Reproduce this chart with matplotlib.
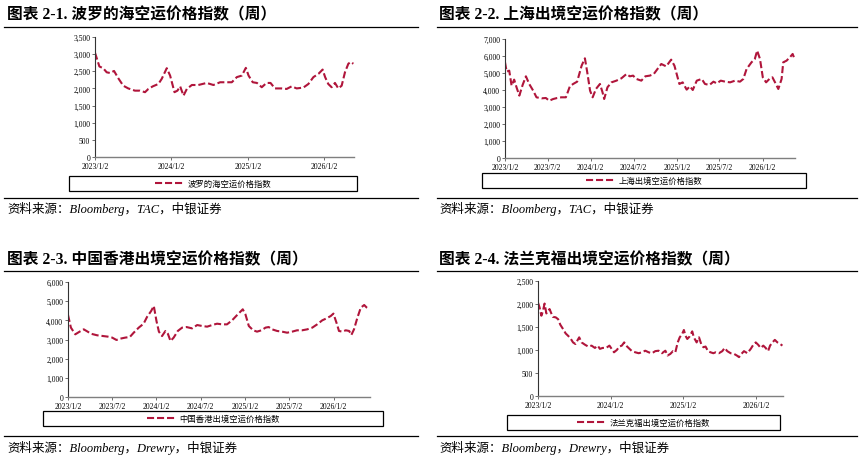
import matplotlib
matplotlib.use("Agg")
import matplotlib.pyplot as plt
import pandas as pd
from matplotlib.patches import Rectangle
from matplotlib.lines import Line2D
from matplotlib.ticker import FuncFormatter
from matplotlib.font_manager import FontProperties

# ---- data ----
dates1 = ["2023-01-02", "2023-01-23", "2023-02-10", "2023-02-27", "2023-03-15", "2023-04-03", "2023-04-23",
          "2023-05-17", "2023-06-10", "2023-07-12", "2023-08-05", "2023-08-29", "2023-09-14", "2023-10-05",
          "2023-11-01", "2023-11-17", "2023-12-11", "2023-12-27",
          "2024-01-17", "2024-01-31", "2024-02-13", "2024-02-29", "2024-03-16", "2024-04-09", "2024-05-10",
          "2024-06-19", "2024-07-21", "2024-08-22", "2024-09-23", "2024-10-17", "2024-11-10", "2024-12-04",
          "2024-12-23",
          "2025-01-05", "2025-01-25", "2025-02-14", "2025-03-09", "2025-04-01", "2025-04-20", "2025-05-11",
          "2025-06-12", "2025-07-06", "2025-07-30", "2025-08-23", "2025-09-24", "2025-10-18", "2025-11-11",
          "2025-12-05", "2025-12-25",
          "2026-01-06", "2026-01-21", "2026-02-06", "2026-02-22", "2026-03-10", "2026-03-26", "2026-04-11",
          "2026-04-27", "2026-05-08", "2026-05-21"]
values1 = [3040, 2640, 2590, 2470, 2450, 2510, 2300, 2080, 2000, 1935, 1935, 1890, 1985, 2060, 2130, 2280, 2590, 2375,
           1890, 1935, 2060, 1790, 1985, 2100, 2100, 2160, 2100, 2180, 2180, 2180, 2330, 2375, 2600,
           2375, 2180, 2160, 2035, 2160, 2160, 2000, 2000, 1985, 2060, 2000, 2025, 2130, 2330, 2425, 2550,
           2330, 2130, 2035, 2160, 2000, 2080, 2475, 2720, 2770, 2720]

dates2 = ["2023-01-02", "2023-01-09", "2023-01-20", "2023-01-30", "2023-02-10", "2023-02-20", "2023-03-04",
          "2023-03-18", "2023-04-01", "2023-04-15", "2023-05-02", "2023-05-16", "2023-06-07", "2023-06-25",
          "2023-07-09", "2023-07-26", "2023-08-12", "2023-08-30", "2023-09-18", "2023-10-05", "2023-10-19",
          "2023-11-05", "2023-11-24", "2023-12-08", "2023-12-18", "2023-12-30",
          "2024-01-10", "2024-01-24", "2024-02-10", "2024-02-21", "2024-02-28", "2024-03-13", "2024-03-30",
          "2024-04-20", "2024-05-11", "2024-06-02", "2024-06-16", "2024-06-30", "2024-07-14", "2024-08-04",
          "2024-08-21", "2024-09-09", "2024-09-26", "2024-10-14", "2024-10-28", "2024-11-18", "2024-12-09",
          "2024-12-23",
          "2025-01-13", "2025-01-27", "2025-02-13", "2025-02-27", "2025-03-11", "2025-03-28", "2025-04-18",
          "2025-05-02", "2025-05-21", "2025-06-07", "2025-06-21", "2025-07-08", "2025-07-27", "2025-08-17",
          "2025-09-07", "2025-09-28", "2025-10-12", "2025-10-26", "2025-11-16", "2025-11-30", "2025-12-10",
          "2025-12-22",
          "2026-01-03", "2026-01-17", "2026-01-31", "2026-02-13", "2026-02-24", "2026-03-10", "2026-03-24",
          "2026-03-31", "2026-04-14", "2026-04-28", "2026-05-10", "2026-05-17"]
values2 = [5630, 5080, 5140, 4255, 4610, 4160, 3670, 4295, 4805, 4355, 3960, 3570, 3510, 3530, 3370, 3470, 3530,
           3570, 3570, 4215, 4355, 4490, 5430, 5865, 5040, 3960,
           3570, 4060, 4355, 3865, 3470, 4160, 4450, 4550, 4685, 4940, 4805, 4845, 4650, 4550, 4805, 4845, 4940,
           5275, 5530, 5390, 5785, 5430,
           4355, 4450, 4020, 4215, 4000, 4550, 4650, 4355, 4295, 4490, 4390, 4550, 4490, 4450, 4550, 4490, 4650,
           5235, 5630, 5825, 6315, 5825,
           4745, 4450, 4650, 4745, 4450, 4060, 4650, 5630, 5725, 5920, 6120, 5865]

dates3 = ["2023-01-02", "2023-01-14", "2023-02-01", "2023-02-19", "2023-03-08", "2023-03-24", "2023-04-07",
          "2023-05-02", "2023-05-27", "2023-06-15", "2023-07-03", "2023-07-21", "2023-08-06", "2023-08-27",
          "2023-09-14", "2023-09-30", "2023-10-21", "2023-11-10", "2023-11-24", "2023-12-11", "2023-12-22",
          "2024-01-02", "2024-01-12", "2024-01-25", "2024-02-08", "2024-02-18", "2024-02-29", "2024-03-13",
          "2024-03-30", "2024-04-17", "2024-05-05", "2024-05-28", "2024-06-18", "2024-07-08", "2024-07-29",
          "2024-08-19", "2024-09-08", "2024-09-29", "2024-10-19", "2024-11-09", "2024-11-30", "2024-12-23",
          "2025-01-03", "2025-01-17", "2025-02-04", "2025-02-20", "2025-03-10", "2025-03-27", "2025-04-09",
          "2025-04-23", "2025-05-14", "2025-06-03", "2025-06-24", "2025-07-15", "2025-08-04", "2025-08-25",
          "2025-09-15", "2025-10-06", "2025-10-26", "2025-11-16", "2025-12-04", "2025-12-21",
          "2026-01-01", "2026-01-15", "2026-01-24", "2026-02-07", "2026-02-21", "2026-03-07", "2026-03-16",
          "2026-03-27", "2026-04-10", "2026-04-24", "2026-05-08", "2026-05-19", "2026-05-29"]
values3 = [4280, 3620, 3270, 3410, 3530, 3410, 3300, 3220, 3180, 3150, 3100, 2975, 3045, 3100, 3130, 3355, 3620,
           3825, 4175, 4485, 4750,
           3965, 3410, 3180, 3445, 3300, 2920, 3100, 3445, 3620, 3650, 3580, 3755, 3705, 3670, 3755, 3825, 3790,
           3790, 4000, 4280, 4575,
           4315, 3705, 3480, 3410, 3480, 3620, 3650, 3530, 3445, 3410, 3355, 3410, 3480, 3480, 3530, 3620, 3790,
           4000, 4105, 4225,
           4350, 3825, 3445, 3410, 3480, 3445, 3235, 3530, 4140, 4660, 4800, 4660, 4575]

dates4 = ["2023-01-02", "2023-01-10", "2023-01-19", "2023-01-27", "2023-02-04", "2023-02-13", "2023-02-21",
          "2023-03-01", "2023-03-10", "2023-03-18", "2023-04-01", "2023-04-13", "2023-04-24", "2023-05-08",
          "2023-05-21", "2023-06-02", "2023-06-14", "2023-06-27", "2023-07-09", "2023-07-18", "2023-07-28",
          "2023-08-09", "2023-08-26", "2023-09-11", "2023-09-28", "2023-10-15", "2023-10-29", "2023-11-09",
          "2023-11-23", "2023-12-10", "2023-12-27",
          "2024-01-07", "2024-01-19", "2024-02-02", "2024-02-15", "2024-02-27", "2024-03-10", "2024-03-20",
          "2024-04-01", "2024-04-18", "2024-05-05", "2024-05-22", "2024-06-07", "2024-06-24", "2024-07-11",
          "2024-07-28", "2024-08-13", "2024-08-30", "2024-09-16", "2024-10-03", "2024-10-14", "2024-10-28",
          "2024-11-10", "2024-11-22", "2024-12-04", "2024-12-14", "2024-12-26",
          "2025-01-04", "2025-01-12", "2025-01-21", "2025-02-01", "2025-02-15", "2025-02-23", "2025-03-09",
          "2025-03-21", "2025-04-01", "2025-04-12", "2025-04-23", "2025-05-05", "2025-05-18", "2025-06-01",
          "2025-06-13", "2025-06-29", "2025-07-16", "2025-07-28", "2025-08-10", "2025-08-27", "2025-09-13",
          "2025-09-27", "2025-10-08", "2025-10-20", "2025-11-02", "2025-11-19", "2025-12-06", "2025-12-19",
          "2025-12-31",
          "2026-01-12", "2026-01-25", "2026-02-07", "2026-02-19", "2026-03-03", "2026-03-13", "2026-03-25",
          "2026-04-06", "2026-04-19", "2026-05-03", "2026-05-14"]
values4 = [2030, 1925, 1745, 1850, 2010, 1795, 1840, 1890, 1795, 1720, 1710, 1670, 1550, 1455, 1360, 1310, 1255,
           1165, 1130, 1200, 1275, 1165, 1115, 1075, 1095, 1045, 1095, 1025, 1045, 1045, 1095,
           1025, 950, 1000, 1075, 1095, 1165, 1095, 1045, 975, 950, 930, 950, 985, 950, 930, 975, 985, 930, 985,
           880, 915, 975, 950, 1165, 1275, 1345,
           1435, 1310, 1240, 1290, 1405, 1275, 1165, 1275, 1130, 1060, 1075, 975, 950, 930, 950, 930, 975, 1045,
           975, 930, 915, 880, 845, 915, 975, 930, 1025, 1115, 1165,
           1115, 1045, 1095, 1045, 975, 1095, 1165, 1220, 1165, 1130, 1095]

titles = ["图表 2-1. 波罗的海空运价格指数（周）", "图表 2-2. 上海出境空运价格指数（周）",
          "图表 2-3. 中国香港出境空运价格指数（周）", "图表 2-4. 法兰克福出境空运价格指数（周）"]
series_names = ["波罗的海空运价格指数", "上海出境空运价格指数", "中国香港出境空运价格指数", "法兰克福出境空运价格指数"]
sources = ["资料来源：Bloomberg，TAC，中银证券", "资料来源：Bloomberg，TAC，中银证券",
           "资料来源：Bloomberg，Drewry，中银证券", "资料来源：Bloomberg，Drewry，中银证券"]
yearly_ticks = ["2023-01-02", "2024-01-02", "2025-01-02", "2026-01-02"]
half_ticks = ["2023-01-02", "2023-07-02", "2024-01-02", "2024-07-02", "2025-01-02", "2025-07-02", "2026-01-02"]
y_max = [3500, 7000, 6000, 2500]
y_step = [500, 1000, 1000, 500]

# ---- layout (pixels in the 863x460 canvas) ----
W, H = 863, 460
RED = "#B0153B"
CJK = ["Liberation Serif", "Noto Sans CJK SC"]

def fx(p):
    return p / W

def fy(p):
    return 1 - p / H

layout = [
    # axes box l, t, r, b | legend box l, t, r, b | rule x0, x1, top y, bottom y | title x, y | source y
    dict(ax=(95, 38, 354, 158), leg=(69, 177, 357, 192), rule=(4, 418, 27.5, 198.5), title=(7, 15), src=209),
    dict(ax=(505, 40, 795, 159), leg=(482, 174, 806, 189), rule=(437, 857, 27.5, 198.5), title=(439, 15), src=209),
    dict(ax=(68, 283, 370, 398), leg=(43, 412, 383, 427), rule=(4, 418, 271.5, 437), title=(7, 260), src=448),
    dict(ax=(538, 282, 783, 397), leg=(507, 416, 780, 431), rule=(437, 857, 271.5, 437), title=(439, 260), src=448),
]

all_dates = [dates1, dates2, dates3, dates4]
all_values = [values1, values2, values3, values4]
all_ticks = [yearly_ticks, half_ticks, half_ticks, yearly_ticks]

fig = plt.figure(figsize=(8.63, 4.6), dpi=100)

for i in range(4):
    L = layout[i]
    l, t, r, b = L["ax"]
    ax = fig.add_axes([fx(l), fy(b), fx(r - l), (b - t) / H])
    d = pd.to_datetime(all_dates[i])
    ax.plot(d, all_values[i], color=RED, lw=1.5, dashes=(3.4, 1.4), label=series_names[i])

    ax.set_ylim(0, y_max[i])
    ax.set_yticks(range(0, y_max[i] + 1, y_step[i]))
    ax.yaxis.set_major_formatter(FuncFormatter(lambda v, _: f"{int(v):,}"))
    ax.set_xlim(d[0], d[-1] + pd.Timedelta(days=3))
    tk = pd.to_datetime(all_ticks[i])
    ax.set_xticks(tk)
    ax.set_xticklabels([f"{x.year}/{x.month}/{x.day}" for x in tk])

    for s in ["top", "right"]:
        ax.spines[s].set_visible(False)
    ax.spines["left"].set_color("#333333")
    ax.spines["left"].set_linewidth(0.8)
    ax.spines["bottom"].set_color("#7f7f7f")
    ax.spines["bottom"].set_linewidth(1.0)
    ax.tick_params(axis="both", labelsize=5.5, length=2.5, width=0.6, pad=1, color="#555555")
    for lab in ax.get_xticklabels() + ax.get_yticklabels():
        lab.set_fontfamily("Liberation Serif")

    # legend box
    ll, lt, lr, lb = L["leg"]
    fig.add_artist(Rectangle((fx(ll), fy(lb)), fx(lr - ll), (lb - lt) / H, fill=False, ec="black", lw=0.9))
    ax.legend(loc="center", bbox_to_anchor=(fx((ll + lr) / 2), fy((lt + lb) / 2)),
              bbox_transform=fig.transFigure, frameon=False,
              prop=FontProperties(family="Noto Sans CJK SC", size=6),
              handlelength=3.6, handletextpad=0.3, borderpad=0, borderaxespad=0)

    # rules, title, source
    x0, x1, ytop, ybot = L["rule"]
    fig.add_artist(Line2D([fx(x0), fx(x1)], [fy(ytop), fy(ytop)], color="black", lw=0.9))
    fig.add_artist(Line2D([fx(x0), fx(x1)], [fy(ybot), fy(ybot)], color="black", lw=0.9))
    tx, ty = L["title"]
    fig.text(fx(tx), fy(ty), titles[i], fontsize=11.3, fontweight="bold", family=CJK, va="center", ha="left")
    fig.text(fx(tx), fy(L["src"]), sources[i], fontsize=9, style="italic", family=CJK, va="center", ha="left")

fig.savefig("out.png", dpi=100)
